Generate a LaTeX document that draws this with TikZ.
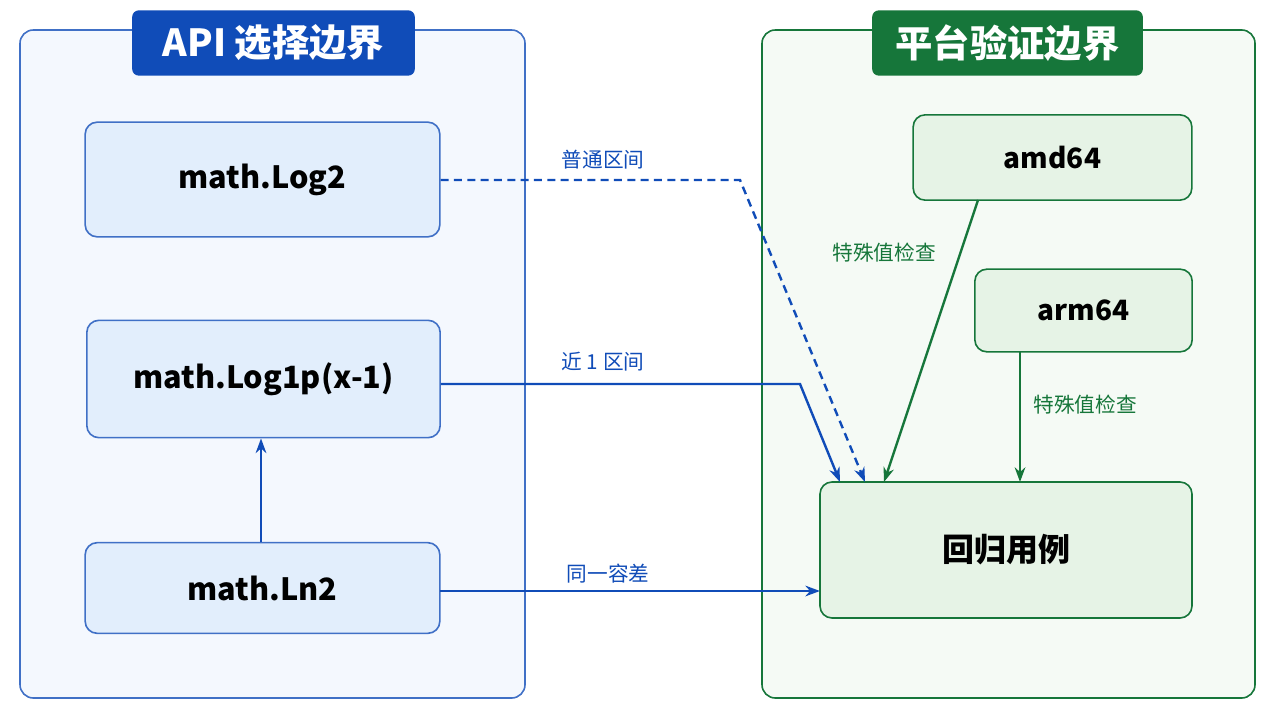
\documentclass[tikz,border=0pt]{standalone}
\usepackage{fontspec}
\newfontfamily\cjk{Noto Sans CJK SC}
\usetikzlibrary{arrows.meta}
\definecolor{apiblue}{RGB}{16,76,184}
\definecolor{apifill}{RGB}{244,248,254}
\definecolor{boxblue}{RGB}{226,238,252}
\definecolor{platgreen}{RGB}{22,118,58}
\definecolor{platfill}{RGB}{245,250,245}
\definecolor{boxgreen}{RGB}{230,243,230}
\tikzset{
  panel/.style={draw, line width=1.2pt, rounded corners=10pt},
  ttl/.style={rounded corners=5pt, text=white, font=\cjk\bfseries\fontsize{28}{32}\selectfont},
  api/.style={draw=apiblue!80, fill=boxblue, line width=1.2pt, rounded corners=9pt, font=\cjk\bfseries\fontsize{23}{27}\selectfont},
  plat/.style={draw=platgreen, fill=boxgreen, line width=1.2pt, rounded corners=9pt, font=\cjk\bfseries\fontsize{21}{25}\selectfont},
  bl/.style={draw=apiblue, line width=1.8pt, -{Stealth[length=11pt,width=8pt]}},
  gr/.style={draw=platgreen, line width=1.8pt, -{Stealth[length=11pt,width=8pt]}},
  lab/.style={font=\cjk\fontsize{15.5}{18}\selectfont}
}
\begin{document}
\begin{tikzpicture}[x=0.75pt,y=0.75pt,yscale=-1]
\useasboundingbox[fill=white] (0,0) rectangle (1280,720);
% panels
\draw[panel, draw=apiblue!80, fill=apifill] (20,30) rectangle (525,698);
\draw[panel, draw=platgreen, fill=platfill] (762,30) rectangle (1255,698);
\node[ttl, fill=apiblue, minimum width=212pt, minimum height=49pt] (t1) at (273.5,43) {API 选择边界};
\node[ttl, fill=platgreen, minimum width=203pt, minimum height=49pt] (t2) at (1007.5,43) {平台验证边界};
% api nodes
\node[api, minimum width=266pt, minimum height=86pt] (log2) at (262.5,179.5) {math.Log2};
\node[api, minimum width=265pt, minimum height=88pt] (log1p) at (263.5,379) {math.Log1p(x-1)};
\node[api, minimum width=266pt, minimum height=68pt] (ln2) at (262.5,588) {math.Ln2};
% platform nodes
\node[plat, minimum width=209pt, minimum height=64pt] (amd) at (1052.5,157.5) {amd64};
\node[plat, minimum width=163pt, minimum height=62pt] (arm) at (1083.5,310.5) {arm64};
\node[plat, minimum width=279pt, minimum height=102pt, font=\cjk\bfseries\fontsize{24}{28}\selectfont] (reg) at (1006,550) {回归用例};
% connectors
\coordinate (c1) at (740,180);
\coordinate (c2) at (800,384);
\coordinate (r1) at (865,482);
\coordinate (r2) at (840,482);
\coordinate (r3) at (884,482);
\coordinate (r4) at (1020,482);
\coordinate (a1) at (978,200);
\coordinate (a2) at (1020,352);
\coordinate (n1) at (440,591);
\coordinate (n2) at (820,591);
\draw[bl, dash pattern=on 6pt off 4pt] (log2.east |- c1) -- (c1) -- (r1);
\draw[bl] (log1p.east |- c2) -- (c2) -- (r2);
\draw[bl] (n1) -- (n2);
\draw[bl] (ln2.north -| 261,0) -- (log1p.south -| 261,0);
\draw[gr] (a1) -- (r3);
\draw[gr] (a2) -- (r4);
% labels
\node[lab, text=apiblue] (l1) at (603,160) {普通区间};
\node[lab, text=apiblue] (l2) at (603,362) {近 1 区间};
\node[lab, text=apiblue] (l3) at (608,574) {同一容差};
\node[lab, text=platgreen] (l4) at (884,253) {特殊值检查};
\node[lab, text=platgreen] (l5) at (1085,405) {特殊值检查};
\end{tikzpicture}
\end{document}
